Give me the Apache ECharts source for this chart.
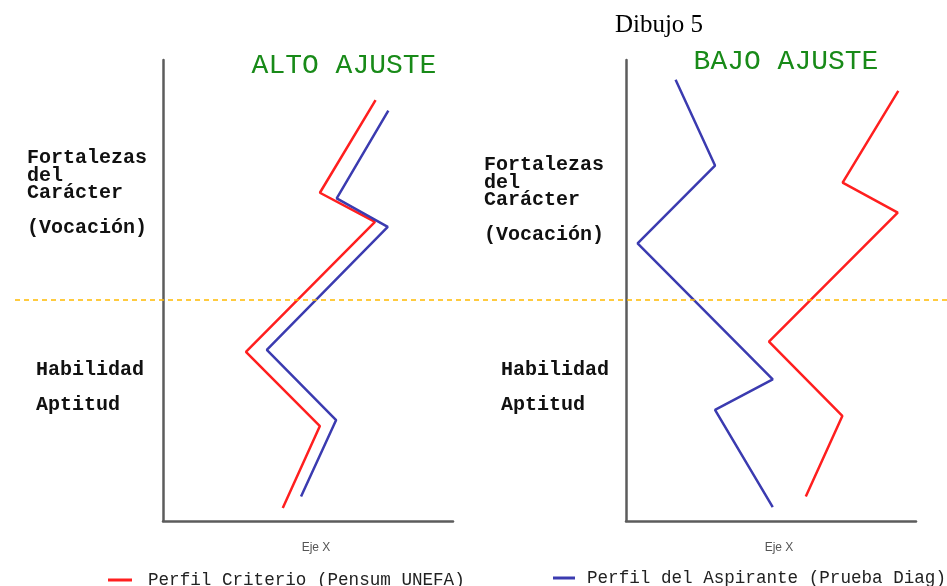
<!DOCTYPE html>
<html>
<head>
<meta charset="utf-8">
<script src="https://cdn.jsdelivr.net/npm/echarts@6/dist/echarts.min.js"></script>
<style>html,body{margin:0;padding:0;background:#fff;}#c{width:947px;height:586px;}</style>
</head>
<body>
<div id="c"></div>
<script>
// Schematic profile values (x = position, y = height on the scale 0..100)
const altoCriterio  = [[73.3,91.3],[54.1,71.2],[73.1,64.9],[28.6,36.7],[54.1,20.6],[41.3,2.8]];
const altoAspirante = [[77.7,89.0],[59.9,70.0],[77.5,63.8],[35.8,37.1],[59.7,21.9],[47.6,5.3]];
const bajoCriterio  = [[93.9,93.3],[74.7,73.4],[93.7,66.9],[49.3,38.9],[74.6,22.8],[62.0,5.3]];
const bajoAspirante = [[17.1,95.7],[30.7,77.1],[4.0,60.2],[50.6,30.7],[30.7,24.1],[50.6,3.0]];
const dividerLevel = 47.9;
const serieNames = ['Perfil Criterio (Pensum UNEFA)', 'Perfil del Aspirante (Prueba Diag)'];
const panelTitles = ['ALTO AJUSTE', 'BAJO AJUSTE'];
const axisName = 'Eje X';
const figureTitle = 'Dibujo 5';
const upperLabel = ['Fortalezas', 'del', 'Carácter'];
const upperLabel2 = '(Vocación)';
const lowerLabels = ['Habilidad', 'Aptitud'];

const chart = echarts.init(document.getElementById('c'));
const mono = '"Liberation Mono", "DejaVu Sans Mono", monospace';
const axisLine = {show: true, onZero: false, lineStyle: {color: '#5c5c5c', width: 2.5}};
function vAxis(gi, show, name) {
  return {
    type: 'value', gridIndex: gi, min: 0, max: 100, show: true,
    axisLine: show ? axisLine : {show: false},
    axisTick: {show: false}, axisLabel: {show: false}, splitLine: {show: false},
    name: name || '', nameLocation: 'middle', nameGap: 21,
    nameTextStyle: {color: '#555', fontSize: 12, fontFamily: '"Liberation Sans", Arial, sans-serif', padding: [0, 0, 0, 16]}
  };
}
const red = '#ff1f1f', blue = '#3b3bb0';
function lineSeries(name, data, color, gi) {
  return {name, type: 'line', xAxisIndex: gi, yAxisIndex: gi, data, symbol: 'none',
    lineStyle: {color, width: 2.5}, itemStyle: {color}, silent: true};
}
function textEl(x, y, text, style) {
  return {type: 'text', x, y, silent: true, style: Object.assign({text, textVerticalAlign: 'middle', verticalAlign: 'middle'}, style)};
}
const lblStyle = {fontFamily: mono, fontWeight: 'bold', fontSize: 20, fill: '#111', align: 'left'};
const graphics = [
  textEl(659, 25, figureTitle, {fontFamily: '"Liberation Serif", "Times New Roman", serif', fontSize: 25, fill: '#000', align: 'center'}),
  textEl(344, 66, panelTitles[0], {fontFamily: mono, fontSize: 28, fill: '#188a18', align: 'center'}),
  textEl(786, 62, panelTitles[1], {fontFamily: mono, fontSize: 28, fill: '#188a18', align: 'center'})
];
[[27, [158, 176, 193.3], 228.3], [484, [165, 182.7, 200], 235]].forEach(([x, ys, y2]) => {
  upperLabel.forEach((t, i) => graphics.push(textEl(x, ys[i], t, lblStyle)));
  graphics.push(textEl(x, y2, upperLabel2, lblStyle));
});
[36, 501].forEach(x => {
  graphics.push(textEl(x, 370, lowerLabels[0], lblStyle));
  graphics.push(textEl(x, 405, lowerLabels[1], lblStyle));
});

chart.setOption({
  animation: false,
  backgroundColor: '#fff',
  grid: [
    {left: 163, top: 60, width: 290, height: 461},
    {left: 626, top: 60, width: 290, height: 461},
    {left: 15, right: 0, top: 60, height: 461}
  ],
  xAxis: [vAxis(0, true, axisName), vAxis(1, true, axisName), Object.assign(vAxis(2, false), {show: false})],
  yAxis: [vAxis(0, true), vAxis(1, true), Object.assign(vAxis(2, false), {show: false})],
  legend: [
    {data: [serieNames[0]], left: 103, top: 566, icon: 'rect', itemWidth: 24, itemHeight: 3,
     textStyle: {fontFamily: mono, fontSize: 17.6, color: '#222', padding: [0, 0, 0, 11]}, selectedMode: false},
    {data: [serieNames[1]], left: 548, top: 564, icon: 'rect', itemWidth: 22, itemHeight: 3,
     textStyle: {fontFamily: mono, fontSize: 17.6, color: '#222', padding: [0, 0, 0, 7]}, selectedMode: false}
  ],
  graphic: graphics,
  series: [
    lineSeries(serieNames[0], altoCriterio, red, 0),
    lineSeries(serieNames[1], altoAspirante, blue, 0),
    lineSeries(serieNames[0], bajoCriterio, red, 1),
    lineSeries(serieNames[1], bajoAspirante, blue, 1),
    {name: 'divisor', type: 'line', xAxisIndex: 2, yAxisIndex: 2, data: [], silent: true,
     markLine: {silent: true, symbol: 'none', label: {show: false},
       lineStyle: {color: '#ffbb00', width: 1.5, type: [5, 4]},
       data: [{yAxis: dividerLevel}]}}
  ]
});
</script>
</body>
</html>
